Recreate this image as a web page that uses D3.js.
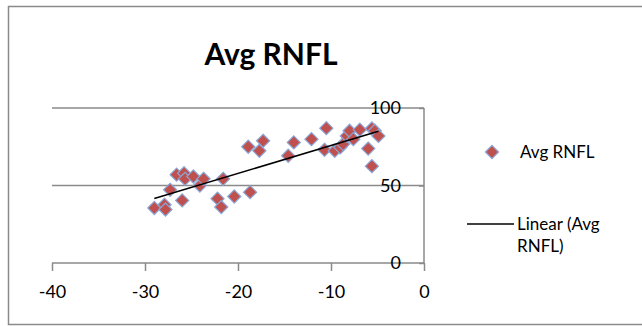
<!DOCTYPE html>
<html>
<head>
<meta charset="utf-8">
<script src="https://cdn.jsdelivr.net/npm/d3@7"></script>
<style>
  body { margin: 0; background: #fff; }
  text { font-family: Lato, "Open Sans", sans-serif; fill: #000; }
</style>
</head>
<body>
<script>
// scatter values (x, avg RNFL)
var xValues = [-29.0, -27.9, -27.8, -27.3, -26.6, -26.0, -25.8, -25.7, -24.8, -24.1,
               -23.7, -22.2, -21.8, -21.6, -20.4, -18.7, -18.9, -17.3, -17.7, -14.6,
               -14.0, -12.1, -10.5, -10.7, -9.6, -9.0, -8.7, -8.3, -8.0, -7.6,
               -6.9, -6.0, -5.6, -5.6, -5.3, -4.9];
var rnfl    = [35.5, 37.6, 34.5, 47.2, 57.0, 40.4, 57.9, 54.3, 55.8, 50.0,
               54.3, 41.5, 36.1, 54.3, 42.9, 45.7, 75.0, 78.8, 72.4, 69.2,
               77.8, 79.9, 87.0, 73.0, 72.4, 74.6, 76.7, 82.0, 85.3, 79.9,
               86.0, 73.8, 62.5, 86.8, 85.3, 82.0];
var xTicks = [-40, -30, -20, -10, 0];
var yTicks = [0, 50, 100];
var seriesName = "Avg RNFL";
var trendName = ["Linear (Avg", "RNFL)"];

var width = 642, height = 326;

var svg = d3.select("body").append("svg")
    .attr("width", width)
    .attr("height", height);

// outer chart frame (runs off the right edge)
svg.append("rect")
    .attr("x", 8.5).attr("y", 6.5)
    .attr("width", 700).attr("height", 318)
    .attr("fill", "none")
    .attr("stroke", "#8a8a8a")
    .attr("stroke-width", 1.5);

svg.append("text")
    .attr("x", 271).attr("y", 65)
    .attr("text-anchor", "middle")
    .style("font-size", "30px")
    .style("font-weight", "bold")
    .text("Avg RNFL");

var x = d3.scaleLinear().domain([-40, 0]).range([52, 424]);
var y = d3.scaleLinear().domain([0, 100]).range([263, 108]);

// gridlines
svg.append("g")
    .selectAll("line")
    .data(yTicks.filter(d => d > 0))
    .join("line")
    .attr("x1", x(-40)).attr("x2", x(0))
    .attr("y1", d => y(d)).attr("y2", d => y(d))
    .style("stroke", "#8a8a8a")
    .style("stroke-width", 1.5);

// x axis sits at y = 0, plain hyphen for negatives
var xAxis = svg.append("g")
    .attr("transform", "translate(0," + y(0) + ")")
    .call(d3.axisBottom(x).tickValues(xTicks).tickSize(8).tickPadding(14).tickFormat(d => String(d)));

// y axis sits at x = 0 (right side), labels on the left
var yAxis = svg.append("g")
    .attr("transform", "translate(" + x(0) + ",0)")
    .call(d3.axisLeft(y).tickValues(yTicks).tickSize(5).tickPadding(18).tickFormat(d => String(d)));

[xAxis, yAxis].forEach(function(a) {
    a.select(".domain").style("stroke", "#8a8a8a").style("stroke-width", 1.5);
    a.selectAll(".tick line").style("stroke", "#8a8a8a").style("stroke-width", 1.5);
    a.selectAll("text").style("font-size", "18px").style("font-family", "Lato, sans-serif").attr("fill", "#000");
});
xAxis.select(".domain").attr("d", "M" + x(-40) + ",0H" + x(0));
yAxis.select(".domain").attr("d", "M0," + y(0) + "V" + y(100));

// least squares trendline
var mx = d3.mean(xValues), my = d3.mean(rnfl);
var sxy = d3.sum(xValues, (v, i) => (v - mx) * (rnfl[i] - my));
var sxx = d3.sum(xValues, v => (v - mx) * (v - mx));
var slope = sxy / sxx, icpt = my - slope * mx;
var ext = d3.extent(xValues);

var diamond = d3.symbol().type(d3.symbolDiamond2).size(110);

svg.append("g")
    .selectAll("path")
    .data(xValues.map((v, i) => ({x: v, y: rnfl[i]})))
    .join("path")
    .attr("transform", d => "translate(" + x(d.x) + "," + y(d.y) + ")")
    .attr("d", diamond)
    .attr("fill", "#c0504d")
    .attr("stroke", "#8aa6d6")
    .attr("stroke-width", 1.2);

svg.append("line")
    .attr("x1", x(ext[0])).attr("y1", y(slope * ext[0] + icpt))
    .attr("x2", x(ext[1])).attr("y2", y(slope * ext[1] + icpt))
    .style("stroke", "#000")
    .style("stroke-width", 1.5);

// legend
var legend = svg.append("g");
legend.append("path")
    .attr("transform", "translate(492,152)")
    .attr("d", diamond)
    .attr("fill", "#c0504d")
    .attr("stroke", "#8aa6d6")
    .attr("stroke-width", 1.2);
legend.append("text")
    .attr("x", 520).attr("y", 158)
    .style("font-size", "17px")
    .text(seriesName);
legend.append("line")
    .attr("x1", 467).attr("x2", 514)
    .attr("y1", 224).attr("y2", 224)
    .style("stroke", "#000")
    .style("stroke-width", 1.5);
legend.selectAll("text.trend")
    .data(trendName)
    .join("text")
    .attr("class", "trend")
    .attr("x", 517)
    .attr("y", (d, i) => 230 + i * 22)
    .style("font-size", "17px")
    .text(d => d);
</script>
</body>
</html>
